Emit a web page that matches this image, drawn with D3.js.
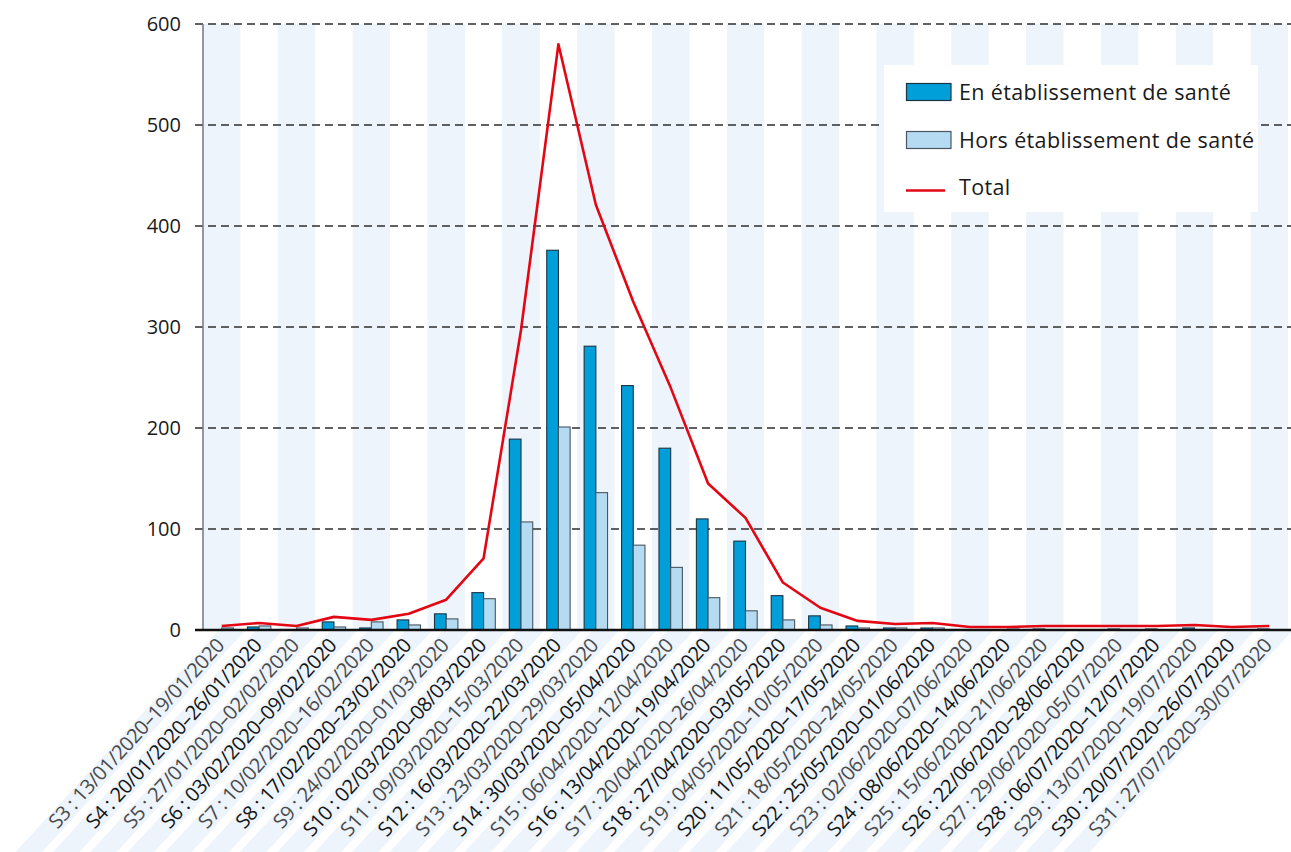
<!DOCTYPE html>
<html>
<head>
<meta charset="utf-8">
<script src="https://cdn.jsdelivr.net/npm/d3@7"></script>
<style>
  html, body { margin: 0; padding: 0; background: #ffffff; }
  svg { display: block; font-family: "Open Sans", "Noto Sans", sans-serif; }
</style>
</head>
<body>
<svg id="chart" width="1291" height="852"></svg>
<script>
const categories = [
  "S3 : 13/01/2020–19/01/2020",
  "S4 : 20/01/2020–26/01/2020",
  "S5 : 27/01/2020–02/02/2020",
  "S6 : 03/02/2020–09/02/2020",
  "S7 : 10/02/2020–16/02/2020",
  "S8 : 17/02/2020–23/02/2020",
  "S9 : 24/02/2020–01/03/2020",
  "S10 : 02/03/2020–08/03/2020",
  "S11 : 09/03/2020–15/03/2020",
  "S12 : 16/03/2020–22/03/2020",
  "S13 : 23/03/2020–29/03/2020",
  "S14 : 30/03/2020–05/04/2020",
  "S15 : 06/04/2020–12/04/2020",
  "S16 : 13/04/2020–19/04/2020",
  "S17 : 20/04/2020–26/04/2020",
  "S18 : 27/04/2020–03/05/2020",
  "S19 : 04/05/2020–10/05/2020",
  "S20 : 11/05/2020–17/05/2020",
  "S21 : 18/05/2020–24/05/2020",
  "S22 : 25/05/2020–01/06/2020",
  "S23 : 02/06/2020–07/06/2020",
  "S24 : 08/06/2020–14/06/2020",
  "S25 : 15/06/2020–21/06/2020",
  "S26 : 22/06/2020–28/06/2020",
  "S27 : 29/06/2020–05/07/2020",
  "S28 : 06/07/2020–12/07/2020",
  "S29 : 13/07/2020–19/07/2020",
  "S30 : 20/07/2020–26/07/2020",
  "S31 : 27/07/2020–30/07/2020"
];
const enEtablissement   = [0, 3, 0, 8, 2, 10, 16, 37, 189, 376, 281, 242, 180, 110, 88, 34, 14, 4, 2, 2, 0, 0, 1, 0, 1, 1, 2, 0, 1];
const horsEtablissement = [2, 4, 2, 3, 8, 5, 11, 31, 107, 201, 136, 84, 62, 32, 19, 10, 5, 2, 2, 2, 0, 1, 0, 0, 0, 0, 0, 0, 0];
const total             = [4, 7, 4, 13, 10, 16, 30, 71, 297, 580, 421, 325, 240, 145, 111, 47, 22, 9, 6, 7, 3, 3, 4, 4, 4, 4, 5, 3, 4];
const yTicks = [0, 100, 200, 300, 400, 500, 600];
const seriesNames = ["En établissement de santé", "Hors établissement de santé", "Total"];

const W = 1291, H = 852;
const plotLeft = 203, plotRight = 1288, plotTop = 24, plotBottom = 630;
const ANG = 47.5;

const svg = d3.select("#chart");
const x = d3.scaleBand().domain(categories).range([plotLeft, plotRight]).padding(0);
const y = d3.scaleLinear().domain([0, 600]).range([plotBottom, plotTop]);
const bw = x.bandwidth();
const barW = 11.7;

// vertical stripes in plot
svg.append("g").selectAll("rect")
  .data(categories.filter((d, i) => i % 2 === 0))
  .join("rect")
  .attr("x", d => x(d))
  .attr("y", y(600))
  .attr("width", bw)
  .attr("height", y(0) - y(600))
  .attr("fill", "#edf4fb");

// diagonal label bands
const defs = svg.append("defs");
defs.append("clipPath").attr("id", "labclip")
  .append("rect").attr("x", 0).attr("y", plotBottom + 1).attr("width", W).attr("height", H - plotBottom);

const bandG = svg.append("g").attr("clip-path", "url(#labclip)");
bandG.selectAll("rect")
  .data(categories)
  .join("rect")
  .attr("transform", d => `translate(${x(d) + bw / 2},${plotBottom}) rotate(${-ANG})`)
  .attr("x", -600)
  .attr("y", -2)
  .attr("width", 640)
  .attr("height", 19.5)
  .attr("fill", "#edf4fb");

// gridlines
svg.append("g").selectAll("line")
  .data(yTicks.filter(t => t > 0))
  .join("line")
  .attr("x1", 195).attr("x2", W)
  .attr("y1", d => y(d)).attr("y2", d => y(d))
  .attr("stroke", "#2e2e2e")
  .attr("stroke-width", 1.3)
  .attr("stroke-dasharray", "8,5");

// y axis line
svg.append("line")
  .attr("x1", plotLeft).attr("x2", plotLeft)
  .attr("y1", y(600)).attr("y2", y(0))
  .attr("stroke", "#777").attr("stroke-width", 1.5);

// y tick labels
svg.append("g").selectAll("text")
  .data(yTicks)
  .join("text")
  .attr("x", 181)
  .attr("y", d => y(d))
  .attr("dy", "0.35em")
  .attr("text-anchor", "end")
  .attr("font-size", 20)
  .attr("fill", "#1a1a1a")
  .text(d => d);

// bars
const barsG = svg.append("g");
barsG.selectAll("rect.en")
  .data(categories.map((c, i) => ({ c, v: enEtablissement[i] })).filter(d => d.v > 0))
  .join("rect")
  .attr("class", "en")
  .attr("x", d => x(d.c) + bw / 2 - barW)
  .attr("y", d => y(d.v))
  .attr("width", barW)
  .attr("height", d => y(0) - y(d.v))
  .attr("fill", "#009fda")
  .attr("stroke", "#1c3442")
  .attr("stroke-width", 1.1);
barsG.selectAll("rect.hors")
  .data(categories.map((c, i) => ({ c, v: horsEtablissement[i] })).filter(d => d.v > 0))
  .join("rect")
  .attr("class", "hors")
  .attr("x", d => x(d.c) + bw / 2)
  .attr("y", d => y(d.v))
  .attr("width", barW)
  .attr("height", d => y(0) - y(d.v))
  .attr("fill", "#b4dbf1")
  .attr("stroke", "#4a5560")
  .attr("stroke-width", 1.1);

// baseline
svg.append("line")
  .attr("x1", 195).attr("x2", W)
  .attr("y1", y(0)).attr("y2", y(0))
  .attr("stroke", "#111").attr("stroke-width", 2.5);

// total line
const line = d3.line()
  .x((d, i) => x(categories[i]) + bw / 2)
  .y(d => y(d));
svg.append("path")
  .datum(total)
  .attr("d", line)
  .attr("fill", "none")
  .attr("stroke", "#e30613")
  .attr("stroke-width", 2.6)
  .attr("stroke-linejoin", "round");

// x labels
svg.append("g").selectAll("text")
  .data(categories)
  .join("text")
  .attr("transform", d => `translate(${x(d) + bw / 2},${plotBottom}) rotate(${-ANG})`)
  .attr("x", -9.6)
  .attr("y", 13.8)
  .attr("text-anchor", "end")
  .attr("font-size", 20)
  .attr("letter-spacing", -0.45)
  .attr("fill", (d, i) => i % 2 === 0 ? "#4a4a4a" : "#141414")
  .text(d => d);

// legend
const lg = svg.append("g");
lg.append("rect")
  .attr("x", 884).attr("y", 65).attr("width", 374).attr("height", 147)
  .attr("fill", "#ffffff");
const legendItems = [
  { name: seriesNames[0], type: "bar", fill: "#009fda", stroke: "#1c3442", cy: 92 },
  { name: seriesNames[1], type: "bar", fill: "#b4dbf1", stroke: "#4a5560", cy: 140 },
  { name: seriesNames[2], type: "line", stroke: "#e30613", cy: 187 }
];
legendItems.forEach(it => {
  if (it.type === "bar") {
    lg.append("rect")
      .attr("x", 906.5).attr("y", it.cy - 8.5).attr("width", 44.5).attr("height", 17)
      .attr("fill", it.fill).attr("stroke", it.stroke).attr("stroke-width", 1.2);
  } else {
    lg.append("line")
      .attr("x1", 906).attr("x2", 945).attr("y1", it.cy + 3.5).attr("y2", it.cy + 3.5)
      .attr("stroke", it.stroke).attr("stroke-width", 2.6);
  }
  lg.append("text")
    .attr("x", 959).attr("y", it.cy)
    .attr("dy", "0.35em")
    .attr("font-size", 21.5)
    .attr("letter-spacing", 0.35)
    .attr("fill", "#1a1a1a")
    .text(it.name);
});
</script>
</body>
</html>
